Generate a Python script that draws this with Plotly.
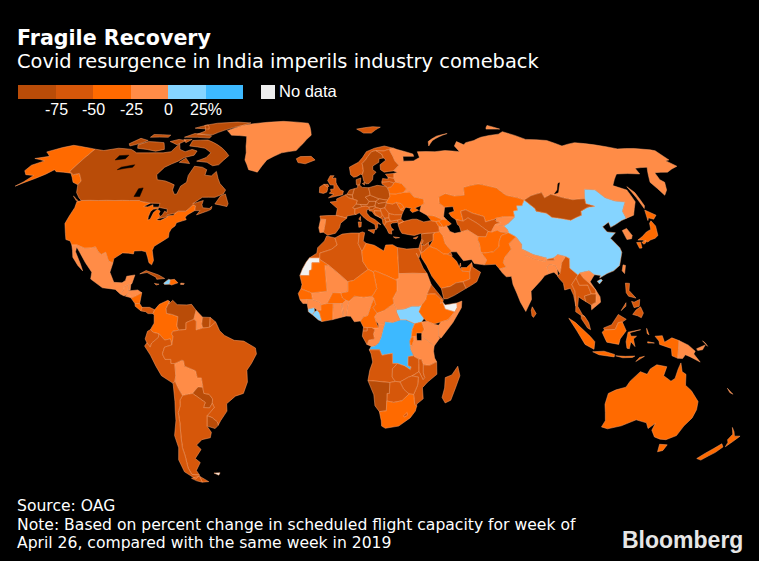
import plotly.graph_objects as go

# rough country outlines as (lon, lat) rings
outlines = {
    "Alaska": [[(-141,69.6),(-148,70.4),(-156.5,71.3),(-161,70.3),(-166.5,68.4),(-161.5,66.5),(-168,65.6),(-161,64.6),(-165,62.8),(-165,60.6),(-162,59),(-157.5,58.7),(-159,56.2),(-161,54.5),(-155,57.5),(-152,59.2),(-150,61),(-148,60.2),(-144,60),(-139.5,59.6),(-134,56),(-130.5,55),(-130.5,56.5),(-135,59.5),(-137.5,59),(-141,60.3)]],
    "USA": [[(-124.7,48.4),(-123,49),(-115,49),(-107,49),(-100,49),(-95.2,49),(-94.6,48.7),(-89.6,48),(-92,46.7),(-90,46.6),(-88,47.4),(-87.5,46.5),(-84.8,46.5),(-84.7,46),(-87,45.7),(-87.8,44.8),(-87.8,43),(-87.5,41.7),(-86.5,42),(-86.2,44.5),(-85,45.7),(-83.4,45),(-83.5,44),(-82.5,43),(-83.1,42.2),(-83.4,41.7),(-81.7,41.5),(-79,42.8),(-79,43.3),(-76.5,43.5),(-76.2,44.2),(-75,45),(-71.5,45),(-70.3,46.2),(-69.2,47.4),(-67.8,47),(-67.4,45.2),(-70.2,43.6),(-70.8,42.7),(-70,41.8),(-71.5,41.4),(-74,40.7),(-74.2,39.5),(-75.5,38.5),(-76,37),(-75.7,35.3),(-77.8,34),(-81,32),(-81.4,30.5),(-80,26.8),(-80.5,25.2),(-81.8,26),(-82.8,28),(-84,30),(-86,30.4),(-89.2,30.3),(-89.2,29.2),(-91.5,29.5),(-94,29.6),(-97.2,27.5),(-97.2,25.9),(-99.3,26.6),(-101.4,29.8),(-103,29),(-104.7,30),(-106.5,31.8),(-108.2,31.4),(-111,31.3),(-114.8,32.5),(-117.1,32.5),(-118.5,34),(-120.6,34.5),(-122,36.8),(-124.3,40.4),(-124.2,43),(-124,46.3)]],
    "Canada": [
        [(-141,69.6),(-135,69),(-128,70),(-120,69.5),(-115,68),(-108,68),(-100,68),(-96,68.5),(-95,72),(-92,69.5),(-88,68.5),(-85,69.5),(-81.5,68.8),(-81.5,67),(-86,66),(-88,64.5),(-93,62),(-94.5,59),(-92.5,57),(-88,56.5),(-82.5,55),(-82,53),(-80,51.3),(-79,51.5),(-79,54.5),(-77,56),(-78,58.7),(-77.5,62.4),(-73,62),(-70,61),(-69.5,58.8),(-66,58.5),(-64.5,60.3),(-62,57.5),(-60,55.5),(-56,53),(-56.5,51.5),(-60,50.2),(-66,50.2),(-69.5,47.8),(-65,49),(-65,47.5),(-64.2,46.3),(-61,46),(-60,46.8),(-60,45.7),(-61,45.2),(-66,43.6),(-65,45.2),(-67.4,45.2),(-67.8,47),(-69.2,47.4),(-70.3,46.2),(-71.5,45),(-75,45),(-76.2,44.2),(-79.5,43.6),(-79,42.9),(-83.1,42.2),(-82.5,43),(-81.7,43.5),(-81.3,45),(-80,44.5),(-80.5,45.8),(-84,46.3),(-84.8,46.5),(-85,47.9),(-89.6,48),(-94.6,48.7),(-95.2,49),(-100,49),(-107,49),(-115,49),(-123,49),(-125,50),(-128,52),(-130.5,55),(-130.5,56.5),(-135,59.5),(-137.5,59),(-141,60.3)],
        [(-80,73.7),(-72,71.5),(-68,70),(-62,66.8),(-65,63),(-68,62.6),(-72,64),(-78,64.5),(-74,66),(-73,68),(-78,70),(-88,71),(-89,73.5)],
        [(-117,70),(-105,68.7),(-101,69.5),(-105,72.5),(-115,73),(-119,71.5)],
        [(-125,72),(-123,71),(-118,72.3),(-116,73.5),(-122,74.5)],
        [(-90,76.5),(-80,76.2),(-75,78.5),(-66,81),(-62,82.5),(-72,83),(-85,82.3),(-92,81),(-87,78)],
        [(-96,75),(-80,74.6),(-80,75.7),(-92,76.8)],
        [(-117,75),(-106,75),(-106,76),(-117,76.3)],
        [(-87,64),(-81,63.5),(-85,65.8)],
        [(-59,47.7),(-53,46.7),(-52.8,47.8),(-55.5,51.5),(-57.5,50.7)],
        [(-128.3,50.7),(-123.5,48.4),(-125,48.7)],
        [(-95,74),(-90,74),(-92,72.5)],
        [(-102,73),(-96,71.5),(-93,73.5),(-98,74)],
        [(-96,79.5),(-86,79),(-90,81.3)],
    ],
    "Greenland": [[(-73,78.2),(-66,81),(-60,82),(-40,83.5),(-22,82.3),(-20,80),(-18,76),(-22,72),(-25,69),(-33,68),(-40,65),(-43,60),(-48,61),(-52,65),(-53,68),(-55,71),(-58,75.5),(-68,76)]],
    "Mexico": [[(-117.1,32.5),(-114.8,32.5),(-111,31.3),(-108.2,31.4),(-106.5,31.8),(-104.7,30),(-103,29),(-101.4,29.8),(-99.3,26.6),(-97.2,25.9),(-97.8,22.5),(-95.5,18.8),(-92,18.6),(-90.7,19.5),(-90.4,21),(-87,21.5),(-87.8,18.3),(-89.1,17.9),(-91,17.2),(-90.8,16.2),(-92.2,14.5),(-94.5,16.2),(-100,16.8),(-105.5,20),(-105.5,22.5),(-109,26),(-112.8,30),(-114.7,31.8),(-114.5,30),(-111,25.5),(-109.5,23),(-112,25),(-115,28),(-116,30.5)]],
    "Guatemala": [[(-92.2,14.5),(-90.8,16.2),(-91,17.2),(-89.1,17.9),(-89,15.9),(-88.2,15.7),(-89.3,14.4),(-90.5,13.8)]],
    "Belize": [[(-89.1,17.9),(-88.2,18.4),(-88.2,16),(-89,15.9)]],
    "Honduras": [[(-89.3,14.4),(-88.2,15.7),(-85,16),(-83.2,15),(-85,14),(-87.5,13)]],
    "El Salvador": [[(-90,13.7),(-89.3,14.4),(-87.7,13.8),(-87.8,13.2)]],
    "Nicaragua": [[(-87.5,13),(-85,14),(-83.2,15),(-83.7,11),(-85.7,11)]],
    "Costa Rica": [[(-85.7,11),(-83.7,11),(-82.6,9.6),(-83,8.3),(-85.5,10)]],
    "Panama": [[(-83,8.3),(-82.6,9.6),(-79.5,9.6),(-77.3,8.7),(-77.9,7.3),(-80,7.3),(-81,8)]],
    "Cuba": [[(-85,21.9),(-82.5,23.1),(-77,21.5),(-74.2,20.2),(-77.5,19.9),(-78,20.7),(-82,22.4)]],
    "Jamaica": [[(-78.3,18.4),(-76.3,18.1),(-77.5,17.8)]],
    "Haiti": [[(-74.4,18.5),(-72.5,19.9),(-71.7,19.7),(-71.8,18.1),(-74,18)]],
    "Dominican Rep.": [[(-71.7,19.7),(-70,19.9),(-68.4,18.6),(-71,17.8),(-71.8,18.1)]],
    "Puerto Rico": [[(-67.2,18.5),(-65.7,18.4),(-65.9,18),(-67.2,18)]],
    "Colombia": [[(-77.3,8.7),(-75.5,10.7),(-72,12.2),(-71.3,11.8),(-72.5,9.2),(-72.3,7.4),(-70,7),(-67.5,6.2),(-67.8,2.8),(-67,1.2),(-69.5,0.8),(-70,-0.2),(-69.4,-1),(-69.9,-4.2),(-70.5,-2),(-72.9,-2.4),(-75.2,-0.1),(-77.5,0.4),(-78.8,1.4),(-77.3,3.8),(-77.4,6.7),(-77.9,7.3)]],
    "Venezuela": [[(-71.3,11.8),(-71.5,10.8),(-70,12.2),(-68,10.6),(-64,10.5),(-62,10.7),(-60,8.5),(-60.8,5.2),(-64,4),(-64,1.5),(-67,1.2),(-67.8,2.8),(-67.5,6.2),(-70,7),(-72.3,7.4),(-72.5,9.2)]],
    "Guyana": [[(-60,8.5),(-57.2,6),(-57.5,3.5),(-57,2),(-59.8,1.3),(-59.8,4.5),(-60.8,5.2)]],
    "Suriname": [[(-57.2,6),(-54,5.9),(-54.2,2.3),(-57,2),(-57.5,3.5)]],
    "French Guiana": [[(-54,5.9),(-51.7,4.2),(-54.2,2.3)]],
    "Ecuador": [[(-80.3,-3.4),(-81,-2),(-80,0.8),(-78.8,1.4),(-77.5,0.4),(-75.2,-0.1),(-75.5,-1.5),(-78.3,-3.5),(-79,-5)]],
    "Peru": [[(-81.3,-4.6),(-80.3,-3.4),(-79,-5),(-78.3,-3.5),(-75.5,-1.5),(-75.2,-0.1),(-72.9,-2.4),(-70.5,-2),(-69.9,-4.2),(-73,-5),(-74,-7.5),(-73,-9.5),(-70.6,-9.5),(-70.6,-11),(-69,-11),(-69,-15.5),(-69.5,-17.5),(-70.4,-18.3),(-75,-15.5),(-77,-12),(-79,-8)]],
    "Bolivia": [[(-69,-11),(-66,-9.8),(-65.3,-10),(-65,-12),(-60.5,-13.7),(-60,-16.3),(-58.3,-16.3),(-58,-19),(-58,-19.8),(-60,-19.6),(-62.6,-22),(-64.5,-22.3),(-67,-22.8),(-68.5,-20),(-69.5,-17.5),(-69,-15.5)]],
    "Paraguay": [[(-58,-19.8),(-57.8,-22),(-55.6,-22.3),(-54.3,-24),(-54.6,-25.6),(-56,-27.3),(-58.6,-27.2),(-57.6,-25.3),(-62.6,-22),(-60,-19.6)]],
    "Brazil": [[(-51.7,4.2),(-50,1),(-48,-0.7),(-44,-2.5),(-40,-2.8),(-35.2,-5.3),(-34.8,-7.5),(-37,-11),(-39,-13.5),(-39,-17.8),(-41,-22),(-44.5,-23),(-48.5,-25.8),(-48.7,-28.5),(-52,-32),(-53.4,-33.7),(-53.5,-32.5),(-55.5,-30.9),(-57.6,-30.2),(-54,-27.2),(-54.6,-25.6),(-54.3,-24),(-55.6,-22.3),(-57.8,-22),(-58,-19.8),(-58,-19),(-58.3,-16.3),(-60,-16.3),(-60.5,-13.7),(-65,-12),(-65.3,-10),(-66,-9.8),(-69,-11),(-70.6,-11),(-70.6,-9.5),(-73,-9.5),(-74,-7.5),(-73,-5),(-69.9,-4.2),(-69.4,-1),(-70,-0.2),(-69.5,0.8),(-67,1.2),(-64,1.5),(-64,4),(-60.8,5.2),(-59.8,4.5),(-59.8,1.3),(-57,2),(-54.2,2.3)]],
    "Uruguay": [[(-57.6,-30.2),(-55.5,-30.9),(-53.5,-32.5),(-53.4,-33.7),(-55,-34.9),(-58.4,-34)]],
    "Argentina": [
        [(-67,-22.8),(-64.5,-22.3),(-62.6,-22),(-57.6,-25.3),(-58.6,-27.2),(-56,-27.3),(-54.6,-25.6),(-54,-27.2),(-57.6,-30.2),(-58.4,-34),(-57,-36.3),(-58,-38.3),(-62,-39),(-65,-41),(-63.5,-42.6),(-67.5,-46),(-65.8,-47.5),(-69,-50.5),(-68.4,-52.3),(-72,-52),(-72.5,-49.5),(-71.8,-45),(-71.8,-42),(-71,-38),(-70,-33),(-69.8,-29),(-68.5,-26.5),(-68.3,-24.5)],
        [(-68.6,-52.7),(-65.2,-54.8),(-68.6,-55)],
    ],
    "Chile": [
        [(-70.4,-18.3),(-69.5,-17.5),(-68.5,-20),(-67,-22.8),(-68.3,-24.5),(-68.5,-26.5),(-69.8,-29),(-70,-33),(-71,-38),(-71.8,-42),(-71.8,-45),(-72.5,-49.5),(-72,-52),(-68.4,-52.3),(-71,-53.8),(-75,-51),(-75.5,-46.5),(-73.5,-42),(-73.7,-37.5),(-71.5,-32),(-70.5,-25)],
        [(-68.6,-52.7),(-68.6,-55),(-71,-54.5),(-73,-53.5)],
    ],
    "Falklands": [[(-61,-51.5),(-58,-51.4),(-59,-52.3)]],
    "Iceland": [[(-24,65.5),(-22,66.4),(-16,66.5),(-13.6,65),(-18.7,63.4),(-22.7,63.9)]],
    "Ireland": [[(-10,52),(-10,54.2),(-8,55.2),(-6.2,54.1),(-6,53.5),(-6.4,52.2),(-8,51.7)]],
    "UK": [
        [(-5.5,50),(-3.5,50.3),(1.3,51.2),(1.7,52.6),(0.2,53),(-1.5,55),(-2,56),(-2,57.6),(-4,57.7),(-3,58.6),(-5,58.6),(-6.2,56.7),(-4.9,55),(-3,54.9),(-3,53.4),(-4.6,53.3),(-4.3,52.3),(-5.2,51.8),(-3,51.4)],
        [(-8,55.2),(-6,55.2),(-5.5,54.4),(-6.2,54.1)],
    ],
    "Norway": [
        [(5.5,59),(7,58),(8.5,58.2),(10.7,59.2),(11.5,59),(12.3,60.5),(12,63.5),(14,65),(15.5,66.5),(18,68.5),(20.5,69),(25,68.8),(28.9,69.7),(31,70),(26,71),(20,70),(15,68.5),(12.5,66),(10,64),(5,62)],
        [(11,79),(22,80.3),(27,80),(20,77),(15,77)],
    ],
    "Sweden": [[(11.5,59),(12,56.5),(13,55.4),(14.5,55.5),(16.5,57),(17,58.7),(18.8,60),(17.2,61),(17.5,62.5),(21,64),(21.5,65.5),(24,65.8),(23.5,67.5),(20.5,69),(18,68.5),(15.5,66.5),(14,65),(12,63.5),(12.3,60.5)]],
    "Finland": [[(24,65.8),(25.2,65),(21.5,63),(21.3,61),(23,60),(25.5,60.3),(28,60.5),(31.5,62.8),(30,64.5),(29.5,66.5),(28.5,69),(28.9,69.7),(25,68.8),(20.5,69),(23.5,67.5)]],
    "Denmark": [
        [(8.2,55),(8.2,57),(10.6,57.7),(10.3,56),(9.8,54.9)],
        [(11.2,55.5),(12.5,56),(12.2,54.9)],
    ],
    "Germany": [[(6,51),(7,53.5),(8.7,53.9),(8.8,54.9),(9.8,54.9),(11,54),(14.2,53.9),(14.6,51),(12.2,50.3),(13.8,48.7),(13,47.5),(9.5,47.5),(7.6,47.6),(8.2,49),(6.2,49.5)]],
    "Netherlands": [[(3.4,51.4),(4.7,53),(7,53.5),(6,51)]],
    "Belgium": [[(2.5,51.1),(3.4,51.4),(6,51),(6.2,49.5),(4.2,50)]],
    "France": [
        [(-1.8,43.4),(-1.2,46),(-4.7,48.4),(-1.5,48.7),(-1.6,49.6),(2.5,51.1),(4.2,50),(6.2,49.5),(8.2,49),(7.6,47.6),(6,46.2),(7,45.9),(6.8,44),(7.5,43.8),(3.3,43.2),(3.1,42.4)],
        [(8.6,42),(9.4,43),(9.4,41.5)],
    ],
    "Spain": [[(-9.2,43.2),(-1.8,43.4),(3.1,42.4),(0.3,40.5),(-0.2,38.8),(-2,36.8),(-5.4,36.1),(-7.4,37.2),(-7,39),(-6.5,41.9),(-8.8,42)]],
    "Portugal": [[(-8.8,42),(-6.5,41.9),(-7,39),(-7.4,37.2),(-8.9,37),(-9.5,38.8)]],
    "Italy": [
        [(7,45.9),(6.8,44),(7.5,43.8),(9,44.4),(10.5,43),(12.3,41.7),(15.8,40),(16,38),(17,39),(16.9,40.4),(18.5,40),(16,41.8),(13.8,42.8),(12.4,44.3),(12.5,45.5),(13.7,45.7),(13.7,46.5),(12.2,47),(10.4,46.8),(9.5,46.5)],
        [(12.5,38),(15.6,38.2),(15.1,36.7)],
        [(8.3,41),(9.7,41),(9.5,39.2),(8.5,39)],
    ],
    "Switzerland": [[(6,46.2),(7.6,47.6),(9.5,47.5),(10.4,46.8),(9.5,46.5),(7,45.9)]],
    "Austria": [[(9.5,47.5),(13,47.5),(13.8,48.7),(17,48.7),(16.5,46.9),(13.7,46.5),(12.2,47),(10.4,46.8)]],
    "Czechia": [[(12.2,50.3),(14.6,51),(18.8,49.6),(17,48.7),(13.8,48.7)]],
    "Poland": [[(14.2,53.9),(18.5,54.8),(23,54.4),(24,52.5),(24,50.5),(22.7,49.1),(18.8,49.6),(14.6,51)]],
    "Slovakia": [[(17,48.7),(18.8,49.6),(22.7,49.1),(22.1,48.4),(18,47.8)]],
    "Hungary": [[(16.5,46.9),(17,48.7),(18,47.8),(22.1,48.4),(21,46.2),(18.8,45.9),(16.6,46.4)]],
    "Slovenia": [[(13.7,46.5),(16.5,46.9),(16.6,46.4),(15.2,45.5),(13.7,45.5)]],
    "Croatia": [[(13.6,45.1),(13.7,45.5),(15.2,45.5),(16.6,46.4),(18.8,45.9),(19,45),(15.8,45.1),(16.2,44),(18.5,42.5),(16,43.5),(14.8,45)]],
    "Bosnia": [[(15.8,45.1),(19,45),(19.5,43.5),(18.5,42.5),(16.2,44)]],
    "Serbia": [[(18.8,45.9),(21,46.2),(22.6,44.2),(22.4,42.5),(20.5,42.3),(20.3,42.8),(19.5,43.5),(19,45)]],
    "Montenegro": [[(18.5,42.5),(19.5,43.5),(20.3,42.8),(19.3,41.9)]],
    "Albania": [[(19.3,41.9),(20.5,42.3),(20.9,40.9),(20,39.7),(19.4,40.5)]],
    "N. Macedonia": [[(20.5,42.3),(22.4,42.5),(22.9,41.3),(20.9,40.9)]],
    "Greece": [
        [(20,39.7),(20.9,40.9),(22.9,41.3),(26.3,41.7),(26,40.8),(23.7,40.6),(22.7,40),(23,39),(24,38),(23,37.8),(23,36.5),(21.7,36.8),(21,38.3)],
        [(23.6,35.5),(26.3,35.2),(24.5,35)],
    ],
    "Bulgaria": [[(22.9,41.3),(22.4,42.5),(22.6,44.2),(25,43.7),(28.5,43.7),(27.7,42),(26.3,41.7)]],
    "Romania": [[(21,46.2),(22.1,48),(24.9,47.7),(26.7,48.3),(28.2,45.5),(29.6,45.2),(28.5,43.7),(25,43.7),(22.6,44.2)]],
    "Moldova": [[(26.7,48.3),(29,47.8),(30,46.4),(28.2,45.5)]],
    "Ukraine": [[(22.1,48.4),(22.7,49.1),(24,50.5),(24,51.6),(27,51.5),(31,52.1),(34,52.3),(35.5,50.4),(40,49.6),(39.8,47.8),(38.2,47.1),(35,46.2),(36.5,45.3),(33.5,44.5),(32.5,45.4),(33.5,46),(30.8,46.5),(29.6,45.2),(28.2,45.5),(30,46.4),(29,47.8),(26.7,48.3),(24.9,47.7),(22.1,48)]],
    "Belarus": [[(24,52.5),(23.5,53.9),(25.5,54.3),(27,55.8),(28,56.1),(30.8,55.6),(32.7,53.4),(31,52.1),(27,51.5),(24,51.6)]],
    "Lithuania": [[(21,55.3),(21,56.1),(25,56.3),(27,55.8),(25.5,54.3),(23.5,53.9),(22.8,54.4)]],
    "Latvia": [[(21,56.1),(21.7,57.5),(24.4,57.2),(24.5,58),(27.5,57.6),(28,56.1),(27,55.8),(25,56.3)]],
    "Estonia": [[(23.5,59.2),(28,59.5),(27.5,57.6),(24.5,58)]],
    "Russia": [
        [(31,70),(33,69.4),(41,67.5),(41,66.5),(35,66.5),(34.5,64.5),(40,64.6),(44,66),(44,68.5),(54,68.5),(60,69),(68,68.5),(67,71),(70,73),(73,71.5),(75,72.5),(81,73.5),(87,75),(100,76.5),(104.5,77.7),(113,74),(125,73.5),(130,71),(140,72.5),(150,71.5),(160,69.7),(170,69.9),(178,69.3),(180,68.9),(180,65),(177.5,64.7),(179.5,62.4),(170.5,60),(163.5,59.8),(162,57),(163,56),(160,53),(156.7,51),(155.7,56),(163,62),(156,61.6),(155,59.3),(143,59.3),(135.5,54.7),(140.5,53),(140,48.5),(135,43.5),(130.7,42.3),(131,45),(135,48.4),(130.5,48.8),(127,50),(125,53),(120,53.3),(117,49.7),(111,49.3),(107,50),(102,51.4),(98,50),(98,52),(92,50.8),(87.8,49.2),(85,50),(80,51),(77,53.8),(71,55),(69,55.3),(61,54),(60,51),(55,50.7),(51,51.6),(47.5,50.4),(47,48),(49,46.5),(47.5,43),(48.5,41.8),(46.5,41.9),(43,43.2),(40,43.5),(37,45),(38.2,47.1),(39.8,47.8),(40,49.6),(35.5,50.4),(34,52.3),(31,52.1),(32.7,53.4),(30.8,55.6),(28,56.1),(27.5,57.6),(28,59.5),(30,60),(28,60.5),(31.5,62.8),(30,64.5),(29.5,66.5),(28.5,69),(28.9,69.7)],
        [(142,54.3),(143.3,52),(143,47),(142,46),(142,50)],
        [(52,71),(56,73.5),(68,76.8),(60,75.5),(53,73)],
        [(96,79),(105,79),(100,81)],
    ],
    "Kazakhstan": [[(47,48),(47.5,50.4),(51,51.6),(55,50.7),(60,51),(61,54),(69,55.3),(71,55),(77,53.8),(80,51),(85,50),(87.8,49.2),(85.5,47),(83,47),(82.5,45.3),(80.5,45),(80,42.8),(75,42.9),(71,42.3),(70.5,42),(66,41),(66,43),(61,44.3),(58.5,45.5),(56,45),(56,41.3),(52.8,41.8),(51,43),(50.3,44.3),(53,45),(53,46.7),(49,46.5)]],
    "Uzbekistan": [[(56,45),(58.5,45.5),(61,44.3),(66,43),(66,41),(70.5,42),(71,41.2),(73,40.8),(70,40),(68,38),(67.5,37.2),(66,37.5),(64,39),(62,40.5),(58.5,42.5),(56,41.3)]],
    "Turkmenistan": [[(52.8,41.8),(56,41.3),(58.5,42.5),(62,40.5),(64,39),(66,37.5),(64.5,35.5),(61,35.6),(57,38),(54,37.3),(53.7,39.5),(53,40)]],
    "Kyrgyzstan": [[(71,42.3),(75,42.9),(80,42.8),(76,40.4),(73.8,39.5),(70,40),(73,40.8),(71,41.2)]],
    "Tajikistan": [[(67.5,37.2),(68,38),(70,40),(73.8,39.5),(75,38),(75,37),(71.6,37.2),(70.2,37.9)]],
    "Afghanistan": [[(61,35.6),(64.5,35.5),(66,37.5),(67.5,37.2),(70.2,37.9),(71.6,37.2),(75,37),(71.5,36),(70,34),(69.3,31.9),(66.5,30),(62,29.5),(60.9,29.9),(61,33),(60.5,34.3)]],
    "Pakistan": [[(60.9,29.9),(62,29.5),(66.5,30),(69.3,31.9),(70,34),(71.5,36),(75,37),(77.8,35.5),(74,33),(74.5,31),(71,28),(70,26),(71,24.3),(68,23.7),(66.5,25.4),(61.6,25.2),(63,27)]],
    "Iran": [[(44.4,39.4),(46.5,39),(48,39.7),(49,37.5),(51,36.8),(54,37.3),(57,38),(61,35.6),(60.5,34.3),(61,33),(60.9,29.9),(63,27),(61.6,25.2),(57.5,25.7),(56.5,27.2),(53,26.7),(50.5,30),(48.5,30),(46,33),(45.5,35.9),(44.3,37.4)]],
    "Iraq": [[(42.4,37.1),(44.3,37.4),(45.5,35.9),(46,33),(48.5,30),(47.9,29.9),(46.5,29.1),(44.7,29.2),(42,31),(39,32),(41,34.4),(41.3,36.5)]],
    "Syria": [[(36.2,36.6),(42.4,37.1),(41.3,36.5),(41,34.4),(38.8,33.4),(36.8,32.3),(35.8,33.1),(36.5,34),(36,34.6)]],
    "Lebanon": [[(35.1,33.1),(36,34.6),(36.5,34),(35.8,33.1)]],
    "Israel": [[(34.3,31.3),(34.9,29.5),(35.5,31),(35.6,32.5),(35.8,33.1),(35.1,33.1)]],
    "Jordan": [[(34.9,29.5),(36.1,30),(37.5,31),(39,32),(38.8,33.4),(36.8,32.3),(35.6,32.5),(35.5,31)]],
    "Saudi Arabia": [[(34.9,29.5),(36.1,30),(37.5,31),(39,32),(42,31),(44.7,29.2),(46.5,29.1),(48,28.5),(50,26.5),(50.8,24.8),(52,22.9),(55.2,22.7),(55,20),(52,19),(49,18.6),(46.5,17.3),(43.2,16.7),(42.7,16.4),(39,21),(37,25),(35,28)]],
    "Kuwait": [[(46.5,29.1),(47.9,29.9),(48.4,28.6),(48,28.5)]],
    "Yemen": [[(42.7,16.4),(43.2,16.7),(46.5,17.3),(49,18.6),(52,19),(53.1,16.6),(48,14),(45,12.8),(43.5,12.7)]],
    "Oman": [[(52,19),(55,20),(55.2,22.7),(56,24.8),(56.4,26),(56.7,24.3),(59.8,22.5),(57.8,19),(55,17.5),(53.1,16.6)]],
    "UAE": [[(51.6,24.2),(54,24.2),(56.4,26),(56,24.8),(55.2,22.7),(52,22.9)]],
    "Qatar": [[(51,24.6),(51.6,25.9),(51.6,24.7)]],
    "Turkey": [
        [(26.2,40),(26.8,38),(27.5,36.8),(30.5,36.3),(33,36),(36,36.8),(36.2,36.6),(42.4,37.1),(44.3,37.4),(44.4,39.4),(43.5,41.1),(41.5,41.5),(38,41),(35,42),(33,42),(29,41.2),(27,40.5)],
        [(26.3,41.7),(28,42),(29,41.2),(26.2,40.2)],
    ],
    "Georgia": [[(40,43.5),(43,43.2),(46.5,41.9),(45,41.3),(43.5,41.1),(41.5,41.5)]],
    "Armenia": [[(43.5,41.1),(45,41.3),(46.5,39),(44.4,39.4)]],
    "Azerbaijan": [[(45,41.3),(46.5,41.9),(48.5,41.8),(50.3,40.3),(49,39.7),(48,39.7),(46.5,39)]],
    "Cyprus": [[(32.3,35),(34.5,35.6),(33.5,34.7)]],
    "Morocco": [[(-5.9,35.8),(-2.2,35.1),(-1.2,32.5),(-3.7,30.9),(-8.7,29.5),(-8.7,27.7),(-13.2,27.7),(-10,29.5),(-9.7,31.5),(-6.8,34)]],
    "W. Sahara": [[(-13.2,27.7),(-8.7,27.7),(-8.7,26),(-12,26),(-12,23.5),(-13,23),(-13,21.3),(-17,21.3),(-16,23.7),(-14.5,26.2)]],
    "Algeria": [[(-2.2,35.1),(1,36.5),(5,36.9),(8.6,36.9),(8,33),(9.5,30.2),(9.8,26.5),(12,23.5),(5.8,19.5),(3.3,19),(-4.8,25),(-8.7,27.2),(-8.7,29.5),(-3.7,30.9),(-1.2,32.5)]],
    "Tunisia": [[(8.6,36.9),(10,37.3),(11,37),(10.2,34),(11.5,33.1),(10.2,31),(9.5,30.2),(8,33)]],
    "Libya": [[(9.5,30.2),(10.2,31),(11.5,33.1),(15,32.4),(19,30.3),(20,32.5),(23,32.6),(25,31.6),(25,20),(24,20),(24,19.5),(15,23),(14.2,22.6),(12,23.5),(9.8,26.5)]],
    "Egypt": [[(25,31.6),(29,31),(32.5,31.2),(34.3,31.3),(34.9,29.5),(34,27.8),(33,29.5),(35.5,24),(37,22),(25,22)]],
    "Sudan": [[(25,22),(37,22),(38.5,18),(36.5,14.3),(36,12.5),(34.2,10.5),(33,10),(30,10),(27,9),(24,8.7),(23.5,9),(22.5,11),(22.2,13),(24,15.7),(24,19.5),(24,20),(25,20)]],
    "South Sudan": [[(23.5,9),(24,8.7),(27,9),(30,10),(33,10),(34.2,10.5),(33,8),(35,5.5),(34,4.2),(31,3.6),(27.5,5),(25,5),(23.5,8)]],
    "Eritrea": [[(36.5,14.3),(38.5,18),(43,12.8),(42.3,12.5),(40,14.5),(38,14.5)]],
    "Djibouti": [[(42.3,12.5),(43.3,12.5),(43,11.5),(42,11)]],
    "Ethiopia": [[(34.2,10.5),(36,12.5),(36.5,14.3),(38,14.5),(40,14.5),(42.3,12.5),(42,11),(43,11.5),(44,9),(47.9,8),(45,5),(42,4.2),(39,3.5),(36,4.5),(35,5.5),(33,8)]],
    "Somaliland": [[(43,11.5),(44,10.5),(48.9,11.2),(48.9,9.5),(47.9,8),(44,9)]],
    "Somalia": [[(48.9,11.2),(51,11.9),(50.7,9.5),(47,4),(42,-1.7),(41,-0.9),(41,3),(42,4.2),(45,5),(47.9,8),(48.9,9.5)]],
    "Kenya": [[(34,4.2),(36,4.5),(39,3.5),(41,3),(41,-0.9),(41.5,-1.7),(39.2,-4.6),(37.7,-3.5),(34,-1),(34,0.2),(35,1.5)]],
    "Uganda": [[(31,3.6),(34,4.2),(35,1.5),(34,0.2),(31.8,0.2),(31.8,-1),(29.6,-1.4),(30,1.5)]],
    "Rwanda-Burundi": [[(29,-2.8),(29.6,-1.4),(30.8,-1.1),(30.8,-2.4),(30,-4.4),(29.2,-4.4)]],
    "Tanzania": [[(30.8,-1.1),(31.8,-1),(32,-2.6),(34,-2.6),(34,-1),(37.7,-3.5),(39.2,-4.6),(39,-6.5),(39.5,-9),(40.4,-10.4),(37.5,-11.7),(34.9,-11.5),(34,-9.5),(32.9,-9.4),(31,-8.5),(29.5,-6),(29.2,-4.4),(30,-4.4),(30.8,-2.4)]],
    "DR Congo": [[(12.2,-6),(13,-4.7),(14.5,-4.5),(16,-3.5),(17,-1.5),(18,2),(18.6,3.6),(18.6,4.4),(22,4.1),(25,5),(27.5,5),(31,3.6),(30,1.5),(29.6,-1.4),(29,-2.8),(29.2,-4.4),(29.5,-6),(30.7,-8.2),(28.5,-8.5),(28.5,-11.8),(29.8,-12.2),(29.5,-13.3),(27,-11.9),(24,-11),(22,-11),(21.8,-7.3),(17.5,-8),(16.5,-6)]],
    "Congo": [[(11.2,-4),(13,-4.7),(14.5,-4.5),(16,-3.5),(17,-1.5),(18,2),(18.6,3.6),(16,3.5),(16,2),(14,2),(13.2,2.2),(14.5,1.4),(13.9,-0.2),(14.4,-2),(12,-2.4)]],
    "Gabon": [[(9.3,-1),(9.6,1),(11.3,1),(11.3,2.2),(13.2,2.2),(14.5,1.4),(13.9,-0.2),(14.4,-2),(12,-2.4),(11.2,-4)]],
    "Eq. Guinea": [[(9.6,1),(9.8,2.3),(11.3,2.2),(11.3,1)]],
    "Cameroon": [[(8.5,4.6),(9.8,2.3),(11.3,2.2),(13.2,2.2),(14,2),(16,2),(15,4.5),(14.5,6.2),(15.5,7.5),(13.8,9.5),(15,10.5),(14.2,13),(13,10.5),(11.5,6.6),(9.8,6.2),(8.8,5)]],
    "Nigeria": [[(2.7,6.4),(4.5,6.3),(6,4.3),(8.5,4.6),(8.8,5),(9.8,6.2),(11.5,6.6),(13,10.5),(14.2,13),(13.5,13.7),(10,13.3),(6,13.7),(3.7,11.8),(3,9)]],
    "CAR": [[(14.5,6.2),(15,4.5),(16,3.5),(18.6,3.6),(18.6,4.4),(22,4.1),(25,5),(23.5,8),(23.5,9),(22.5,11),(20,9.5),(18.5,8.5),(15.5,7.5)]],
    "Chad": [[(15,23),(24,19.5),(24,15.7),(22.2,13),(22.5,11),(20,9.5),(18.5,8.5),(15.5,7.5),(13.8,9.5),(15,10.5),(14.2,13),(13.5,13.7),(15.5,16.5),(14.2,22.6)]],
    "Niger": [[(12,23.5),(14.2,22.6),(15.5,16.5),(13.5,13.7),(10,13.3),(6,13.7),(3.7,11.8),(2.5,12.2),(1,13),(0.3,14.9),(3.3,15.4),(3.3,19),(5.8,19.5)]],
    "Mali": [[(-4.8,25),(3.3,19),(3.3,15.4),(0.3,14.9),(-3,15),(-5.3,11),(-8,10.5),(-8.5,11.5),(-11.5,12.4),(-12,14.9),(-5.5,15.5),(-6.5,25)]],
    "Mauritania": [[(-8.7,27.2),(-4.8,25),(-6.5,25),(-5.5,15.5),(-12,14.9),(-16.4,16.4),(-16,18),(-17,21.3),(-13,21.3),(-13,23),(-12,23.5),(-12,26),(-8.7,26)]],
    "Senegal": [[(-16.4,16.4),(-12,14.9),(-11.5,12.4),(-13.7,12.5),(-16.7,12.4),(-17.5,14.7)]],
    "Guinea-Bissau": [[(-16.7,12.4),(-13.7,12.5),(-13.7,11),(-15.5,11)]],
    "Guinea": [[(-13.7,12.5),(-11.5,12.4),(-8.5,11.5),(-8,10.5),(-7.9,8.5),(-9.5,8.5),(-10.7,9.5),(-13.3,9),(-13.7,11)]],
    "Sierra Leone": [[(-13.3,9),(-10.7,9.5),(-10.6,8),(-11.5,6.9),(-13.2,8)]],
    "Liberia": [[(-11.5,6.9),(-10.6,8),(-9.5,8.5),(-8.5,7.6),(-7.5,4.4),(-9,5)]],
    "Ivory Coast": [[(-8,10.5),(-5.3,11),(-2.8,11),(-2.8,9.6),(-3,5.1),(-7.5,4.4),(-8.5,7.6),(-9.5,8.5),(-7.9,8.5)]],
    "Burkina Faso": [[(-5.3,11),(-3,15),(0.3,14.9),(1,13),(2.5,12.2),(1,11),(0.5,11),(-2.8,11)]],
    "Ghana": [[(-2.8,11),(0.5,11),(1.2,6.1),(-3,5.1),(-2.8,9.6)]],
    "Togo": [[(0.5,11),(1,11),(1.7,6.2),(1.2,6.1)]],
    "Benin": [[(1,11),(2.5,12.2),(3.7,11.8),(3,9),(2.7,6.4),(1.7,6.2)]],
    "Angola": [[(12.2,-6),(16.5,-6),(17.5,-8),(21.8,-7.3),(22,-11),(24,-11),(22,-13),(22,-16),(23.4,-17.6),(21,-18),(13.9,-17.4),(11.8,-17.3),(12.5,-13.5),(13.7,-10.5),(13,-7.5)]],
    "Zambia": [[(24,-11),(27,-11.9),(29.5,-13.3),(29.8,-12.2),(28.5,-11.8),(28.5,-8.5),(30.7,-8.2),(31,-8.5),(32.9,-9.4),(33,-11),(33.2,-14),(30.3,-15.6),(28.9,-16),(25.3,-17.8),(23.4,-17.6),(22,-16),(22,-13)]],
    "Malawi": [[(32.9,-9.4),(34,-9.5),(34.9,-11.5),(35,-14.5),(35.7,-16.2),(35,-17),(33.2,-14),(33,-11)]],
    "Mozambique": [[(40.4,-10.4),(40.7,-15),(37,-17.8),(34.9,-19.9),(35.5,-24),(32.9,-25.9),(32.9,-26.8),(32,-26),(31.3,-22.4),(32.8,-19),(33,-16),(30.3,-15.6),(33.2,-14),(35,-17),(35.7,-16.2),(35,-14.5),(34.9,-11.5),(37.5,-11.7)]],
    "Zimbabwe": [[(25.3,-17.8),(28.9,-16),(30.3,-15.6),(33,-16),(32.8,-19),(31.3,-22.4),(29.4,-22.2),(27,-20.5)]],
    "Botswana": [[(21,-18),(23.4,-17.6),(25.3,-17.8),(27,-20.5),(29.4,-22.2),(26.5,-24.7),(23,-25.3),(20,-24.8),(20,-22),(21,-22)]],
    "Namibia": [[(11.8,-17.3),(13.9,-17.4),(21,-18),(21,-22),(20,-22),(20,-28.4),(17,-28.7),(15,-26.5),(14.4,-22.5)]],
    "South Africa": [[(17,-28.7),(20,-28.4),(20,-24.8),(23,-25.3),(26.5,-24.7),(29.4,-22.2),(31.3,-22.4),(32,-26),(32.9,-26.8),(32.5,-28.5),(30.5,-31),(25.8,-34),(20,-34.8),(18.3,-34),(18,-32)]],
    "Lesotho": [[(27.5,-30.2),(29,-29),(29.3,-30),(28,-30.7)]],
    "Madagascar": [[(49.3,-12),(50.4,-15.5),(47.3,-24.5),(45,-25.5),(43.5,-23.5),(44.3,-20),(44.3,-16.2),(47,-15.2)]],
    "India": [[(68,23.7),(71,24.3),(70,26),(71,28),(74.5,31),(74,33),(77.8,35.5),(79.5,32.7),(79,31),(81,30.2),(80,28.8),(83.5,27.4),(88,26.4),(88.2,27.9),(88.7,28),(89,26.8),(92,26.9),(92,27.8),(94,29),(97.3,28.3),(95,26),(93.5,22),(92.5,23.7),(92,25),(89.8,25.3),(88.3,24.5),(89,22),(86.9,21.3),(85,19.5),(80.3,15.5),(80.2,12.5),(77.5,8.1),(75.5,11.5),(73,18),(72.7,21),(70.5,20.8),(69,22.3)]],
    "Nepal": [[(80,28.8),(81,30.2),(83.5,29),(88.2,27.9),(88,26.4),(83.5,27.4)]],
    "Bhutan": [[(88.8,27.3),(92,27.8),(92,26.9),(89,26.8)]],
    "Bangladesh": [[(88.3,24.5),(89.8,25.3),(92,25),(92.5,23.7),(92.5,21),(91,22.5),(89,22)]],
    "Myanmar": [[(92.3,21),(93.5,22),(95,26),(97.3,28.3),(98.7,27.5),(98,24),(101,21.5),(100,20.4),(97.8,18),(98.8,15.5),(98.5,10),(98,14),(97,16.6),(94.5,16),(94.3,18.5),(93,20)]],
    "Thailand": [[(97.8,18),(100,20.4),(101,17.7),(104.5,17.8),(105.5,14.5),(102.5,13.7),(102.9,11.7),(101,12.8),(100,13.5),(99.3,10),(101,7),(102,6.2),(100.5,6.6),(98.3,8),(98.5,10),(98.8,15.5)]],
    "Laos": [[(100,20.4),(101,21.5),(102,22.3),(103,20.5),(105,18.7),(107.5,16),(107.5,14.5),(105.5,14.5),(104.5,17.8),(101,17.7)]],
    "Vietnam": [[(102,22.3),(106,23),(108,21.6),(105.7,19),(109,13.5),(109,11.5),(105,8.7),(105,10.5),(107,11.5),(107.5,14.5),(107.5,16),(105,18.7),(103,20.5)]],
    "Cambodia": [[(102.5,13.7),(105.5,14.5),(107.5,14.5),(107,11.5),(105,10.5),(102.9,11.7)]],
    "Malaysia": [
        [(100.5,6.6),(102,6.2),(103.5,4),(104.2,1.4),(103,2),(100.5,5.5)],
        [(109.6,2),(111.5,2.7),(113,3.2),(116,7),(119.2,5.2),(117.5,4.2),(115.8,4),(114.5,1.5),(110,1.3)],
    ],
    "Indonesia": [
        [(109,0.5),(110,1.3),(114.5,1.5),(115.8,4),(117.5,4.2),(119,1),(116.5,-2),(116,-4),(111,-3.2),(110,-1.5)],
        [(95.3,5.6),(98,4),(104,-1),(106,-3),(105.8,-5.8),(102,-4),(98.5,1)],
        [(105.3,-6.7),(110,-6.5),(114.5,-7.7),(114.4,-8.6),(108,-7.8)],
        [(119.8,0.5),(125,1.4),(120.5,0.3),(121,-1),(123.3,-1),(122,-2),(122.8,-4.8),(121,-3),(120.5,-5.6),(119.5,-5.4),(119,-3)],
        [(123.6,-10.3),(127,-8.4),(125,-8.8)],
        [(115,-8.2),(119,-8.4),(123,-8.3),(122,-8.8),(118,-8.9)],
        [(131,-1),(134,-0.8),(135,-3.2),(138,-1.6),(141,-2.6),(141,-9.1),(138.5,-8.2),(138,-5.5),(133,-4),(132.7,-2.8)],
        [(127.5,1.9),(128.5,-0.5),(127.7,0)],
        [(128,-3),(130.8,-3.5),(128,-3.5)],
    ],
    "PNG": [
        [(141,-2.6),(145,-4.3),(148,-6.5),(147.5,-7.5),(150.5,-10.5),(146,-8.5),(144,-7.8),(143,-9.2),(141,-9.1)],
        [(148.5,-5.6),(152,-4.2),(151,-6),(149,-6.2)],
        [(150.8,-2.7),(153,-4.7),(152,-3.5)],
    ],
    "Philippines": [
        [(120.5,18.5),(122.2,18.4),(121.5,15.8),(124,13),(121,13.7),(120.2,15)],
        [(122,7),(123.5,8.6),(125.5,9.8),(126.5,7.5),(125.5,5.8),(124,6.5)],
        [(122,11.8),(123,11.5),(125.5,12.5),(125,10),(122.8,9.5)],
        [(117.3,8.4),(119.6,11.3),(119.4,10)],
    ],
    "Taiwan": [[(120.1,23),(121,25.2),(122,25),(120.9,22)]],
    "Sri Lanka": [[(79.8,8.5),(80.3,9.8),(81.8,7.3),(80.6,5.9),(80,6.5)]],
    "China": [
        [(73.8,39.5),(76,40.4),(80,42.8),(80.5,45),(82.5,45.3),(83,47),(85.5,47),(87.8,49.2),(91,46),(91,45),(95.4,44.2),(97,42.7),(105,41.6),(111,43.5),(111.8,45),(116,46.5),(119.5,46.8),(116,47.8),(117,49.7),(120,53.3),(125,53),(127,50),(130.5,48.8),(135,48.4),(131,45),(130.7,42.3),(128,41.5),(124.3,40),(121.5,39),(121.7,40.9),(118,39.2),(119,37.3),(122.5,37),(119.3,35),(121.8,31.5),(122,29.8),(119.5,25),(116.5,23),(113.5,22),(110,20.4),(110.5,21.3),(108,21.6),(106,23),(102,22.3),(101,21.5),(98,24),(98.7,27.5),(97.3,28.3),(94,29),(92,27.8),(88.8,27.3),(88.7,28),(88.2,27.9),(83.5,29),(81,30.2),(79,31),(79.5,32.7),(77.8,35.5),(75,37),(75,38)],
        [(108.7,19.2),(110.5,20),(111,19.5),(109.5,18.2)],
    ],
    "Mongolia": [[(87.8,49.2),(92,50.8),(98,52),(98,50),(102,51.4),(107,50),(111,49.3),(117,49.7),(116,47.8),(119.5,46.8),(116,46.5),(111.8,45),(111,43.5),(105,41.6),(97,42.7),(95.4,44.2),(91,45),(91,46)]],
    "South Korea": [[(126,37.8),(128.4,38.6),(129.4,36),(128.5,34.8),(126.3,34.5)]],
    "Japan": [
        [(131,34.3),(133.5,35.5),(136.5,37.3),(139,38.2),(140,40.5),(141.3,41.4),(142,39.5),(140.8,36),(139,35),(136.5,34.3),(135,33.6),(133,34.3)],
        [(130,33.4),(131.8,33.5),(131.4,31.4),(130.3,31.3)],
        [(132.3,33.5),(134.5,34.2),(134,33.3),(132.9,32.8)],
        [(140,41.5),(141.7,45.4),(145.3,43.5),(143,42),(141,42.5)],
    ],
    "Australia": [
        [(114,-22),(113.5,-26),(115.7,-32),(115,-34.3),(118,-35),(123.5,-33.9),(129,-31.7),(134,-32.8),(135.8,-34.9),(138,-33),(137.8,-35.5),(140.5,-38),(143.5,-38.8),(146.3,-39),(150,-37.5),(151,-34),(153,-31),(153.5,-28),(153,-25),(149,-21),(146,-19),(145.3,-15),(143.5,-14),(142.5,-10.8),(141.7,-13),(141,-16.5),(139.5,-17.5),(136,-15.5),(136.8,-12.2),(132.5,-11.5),(130,-13),(129,-15),(126,-14),(122.3,-17.5),(121,-19.7),(117,-20.7)],
        [(144.7,-40.7),(148.3,-40.9),(148,-43),(146,-43.5)],
    ],
    "New Zealand": [
        [(172.7,-34.5),(174.5,-36),(176,-37.7),(178.5,-37.7),(177,-39.6),(175.3,-41.6),(175,-40),(174,-39),(174.7,-37)],
        [(172.7,-40.5),(174.3,-41.7),(172.8,-43.7),(171,-45),(169,-46.6),(166.5,-46),(168.5,-44)],
    ],
    "New Caledonia": [[(164,-20.1),(167,-22.3),(165.5,-21.7)]],
}

# lakes, painted black over the land
lakes = [
    [(-123,65),(-118,65.5),(-118,67),(-123,66.8)],
    [(-117,61),(-110,62),(-110,63),(-116,62)],
    [(-99,50.5),(-96.3,50.5),(-97,53.8),(-99,53.5)],
    [(104,51.6),(106,52),(110,55.8),(109,55.5),(106.5,53)],
]

# percent change for each country, read as the middle of its colour band
changes = {
    "Alaska": -40, "USA": -40, "Canada": -85, "Greenland": -12, "Mexico": -12,
    "Guatemala": -12, "Belize": -12, "Honduras": -12, "El Salvador": -12, "Nicaragua": -40,
    "Costa Rica": -40, "Panama": -60, "Cuba": -85, "Jamaica": -60, "Haiti": 10,
    "Dominican Rep.": -40, "Puerto Rico": -12,
    "Colombia": -40, "Venezuela": -85, "Guyana": -12, "Suriname": -85, "French Guiana": -60,
    "Ecuador": -60, "Peru": -60, "Bolivia": -12, "Paraguay": -85, "Brazil": -60,
    "Uruguay": -85, "Argentina": -60, "Chile": -60,
    "Iceland": -60, "Ireland": -60, "UK": -60, "Norway": -60, "Sweden": -85, "Finland": -60,
    "Denmark": -85, "Germany": -85, "Netherlands": -85, "Belgium": -85, "France": -60,
    "Spain": -60, "Portugal": -12, "Italy": -60, "Switzerland": -85, "Austria": -85,
    "Czechia": -85, "Poland": -85, "Slovakia": -85, "Hungary": -85, "Slovenia": -85,
    "Croatia": -60, "Bosnia": -60, "Serbia": -60, "Montenegro": -60, "Albania": -60,
    "N. Macedonia": -60, "Greece": -60, "Bulgaria": -60, "Romania": -60, "Moldova": -40,
    "Ukraine": -40, "Belarus": -40, "Lithuania": -60, "Latvia": -60, "Estonia": -60,
    "Russia": -12, "Kazakhstan": -40, "Uzbekistan": -60, "Turkmenistan": -60,
    "Kyrgyzstan": -12, "Tajikistan": -12, "Afghanistan": -40, "Pakistan": -40, "Iran": -12,
    "Iraq": -40, "Syria": -85, "Lebanon": -60, "Israel": -60, "Jordan": -60,
    "Saudi Arabia": -40, "Kuwait": -60, "Yemen": -85, "Oman": -60, "UAE": -40, "Qatar": -40,
    "Turkey": -60, "Georgia": -40, "Armenia": -40, "Azerbaijan": -40, "Cyprus": -60,
    "Morocco": -60, "Algeria": -60, "Tunisia": -60, "Libya": -40, "Egypt": -60,
    "Sudan": -12, "South Sudan": 10, "Eritrea": -60, "Djibouti": -40, "Ethiopia": -40,
    "Somalia": -12, "Kenya": -12, "Uganda": -40, "Rwanda-Burundi": -40, "Tanzania": -12,
    "DR Congo": 35, "Congo": -12, "Gabon": -60, "Eq. Guinea": -60, "Cameroon": -40,
    "Nigeria": -12, "CAR": -12, "Chad": -40, "Niger": -40, "Mali": -12, "Mauritania": -40,
    "Senegal": -40, "Guinea-Bissau": -12, "Guinea": -12, "Sierra Leone": 10, "Liberia": 10,
    "Ivory Coast": -40, "Burkina Faso": -40, "Ghana": -12, "Togo": -12, "Benin": -12,
    "Angola": -60, "Zambia": -60, "Malawi": -60, "Mozambique": -60, "Zimbabwe": -60,
    "Botswana": -60, "Namibia": -85, "South Africa": -40, "Lesotho": -60, "Madagascar": -60,
    "India": -12, "Nepal": -12, "Bhutan": -60, "Bangladesh": -12, "Myanmar": -60,
    "Thailand": -60, "Laos": -60, "Vietnam": -12, "Cambodia": -85, "Malaysia": -60,
    "Indonesia": -40, "PNG": -12, "Philippines": -60, "Taiwan": -12, "Sri Lanka": -60,
    "China": 10, "Mongolia": -85, "South Korea": -12, "Japan": -40,
    "Australia": -40, "New Zealand": -40, "New Caledonia": -12,
}
no_data = ["W. Sahara", "Somaliland", "Falklands"]

band_colors = ["#b94c08", "#d6570a", "#ff6a00", "#ff8c47", "#85d4ff", "#3db9ff"]
band_edges = [18, 56, 93, 131, 168, 206, 243]
band_labels = ["-75", "-50", "-25", "0", "25%"]
no_data_color = "#f2f2f2"
border_color = "#ffa26a"


def clockwise(ring):
    area = sum(a[0] * b[1] - b[0] * a[1] for a, b in zip(ring, ring[1:] + ring[:1]))
    if area > 0:
        ring = ring[::-1]
    return ring + ring[:1]


def add_land(rings, fill, line):
    lons, lats = [], []
    for ring in rings:
        for lon, lat in clockwise(ring):
            lons.append(lon)
            lats.append(lat)
        lons.append(None)
        lats.append(None)
    fig.add_trace(go.Scattergeo(lon=lons, lat=lats, mode="lines", fill="toself", fillcolor=fill,
                                line=dict(color=line, width=0.5), hoverinfo="skip", showlegend=False))


fig = go.Figure()
for name, rings in outlines.items():
    if name in no_data:
        add_land(rings, no_data_color, border_color)
    else:
        add_land(rings, band_colors[int((changes[name] + 100) // 25)], border_color)
add_land(lakes, "black", "black")


def px_x(x):
    return x / 759


def px_y(y):
    return 1 - y / 561


def label(text, x, y, size, family="DejaVu Sans", color="white", xanchor="left"):
    fig.add_annotation(text=text, x=px_x(x), y=px_y(y), xref="paper", yref="paper", showarrow=False,
                       xanchor=xanchor, yanchor="middle", font=dict(family=family, size=size, color=color))


label("<b>Fragile Recovery</b>", 15, 37.5, 20.6)
label("Covid resurgence in India imperils industry comeback", 15, 62, 19.4)

for i, c in enumerate(band_colors):
    fig.add_shape(type="rect", xref="paper", yref="paper", x0=px_x(band_edges[i]), x1=px_x(band_edges[i + 1]),
                  y0=px_y(99), y1=px_y(85), fillcolor=c, line_width=0)
for i, t in enumerate(band_labels):
    label(t, band_edges[i + 1], 110, 16, "Liberation Sans", xanchor="center")
fig.add_shape(type="rect", xref="paper", yref="paper", x0=px_x(261), x1=px_x(275), y0=px_y(99), y1=px_y(85),
              fillcolor="#eeeeee", line_width=0)
label("No data", 277, 91, 16.5, "Liberation Sans")

label("Source: OAG", 15, 506, 15.6)
label("Note: Based on percent change in scheduled flight capacity for week of", 15, 525, 15.6)
label("April 26, compared with the same week in 2019", 15, 543, 15.6)
label("<b>Bloomberg</b>", 745, 540, 23, "Liberation Sans", "#e6e6e6", "right")

# the clip box follows the domain, so the domain sits low enough to keep Patagonia
fig.update_layout(
    width=759, height=561, margin=dict(l=0, r=0, t=0, b=0), paper_bgcolor="black", showlegend=False,
    geo=dict(
        bgcolor="black", showframe=False, showland=False, showcountries=False, showcoastlines=False,
        showocean=False, showlakes=False, showrivers=False, showsubunits=False,
        domain=dict(x=[0, 1], y=[0, 0.893]),
        projection=dict(type="robinson", scale=1.141),
        center=dict(lon=16.5, lat=8.44),
        lonaxis=dict(range=[-180, 180]),
        lataxis=dict(range=[-90, 90]),
    ),
)

fig.write_html("out.html", config={"displayModeBar": False},
               post_script="document.body.style.margin='0';document.body.style.background='black';")
